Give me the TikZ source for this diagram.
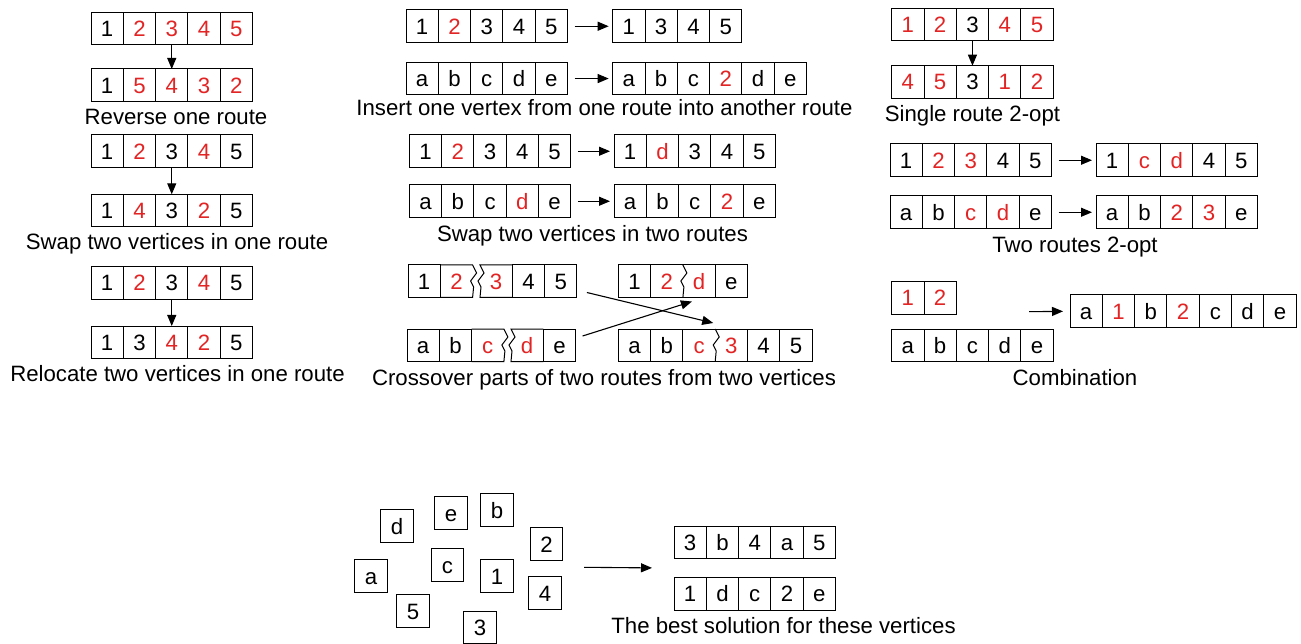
\documentclass[tikz,border=0pt]{standalone}
\usepackage{fontspec}
\setmainfont{Liberation Sans}
\usetikzlibrary{arrows.meta, calc, positioning}

\definecolor{hlred}{RGB}{226,36,36}
\newcommand{\rd}[1]{\textcolor{hlred}{#1}}
% one route = a row of cells, placed from its top-left corner
\newcommand{\route}[4][cell]{%
  \foreach \v [count=\k] in {#4}
    \node[#1] (#2-\k) at ($(#3)+(\k*32.3-16.15,16.25)$) {\v};
}
% torn edge of a cut route, drawn downwards
\newcommand{\tear}{-- ++(4,8) -- ++(-6,8) -- ++(3,6) -- ++(-1,10.5)}

\begin{document}
\begin{tikzpicture}[
  x=1pt, y=-1pt,
  font=\fontsize{22.2}{26}\selectfont,
  cell/.style={draw, line width=1pt, minimum width=32.3pt, minimum height=32.5pt,
    inner sep=0pt, outer sep=0pt, text height=16pt, text depth=0pt},
  cellnb/.style={cell, draw=none},
  outline/.style={line width=1pt},
  caption/.style={inner sep=0pt, text height=16pt, text depth=0pt},
  arrow/.style={-{Triangle[length=11pt,width=9pt]}, line width=1.1pt},
  hop/.style={arrow, shorten <=7pt, shorten >=4pt}
]
\useasboundingbox (0,0) rectangle (1301,644);

% Left column: moves inside one route
\route{rev1}{91,12.3}{1,\rd{2},\rd{3},\rd{4},\rd{5}}
\route{rev2}{91,69}{1,\rd{5},\rd{4},\rd{3},\rd{2}}
\draw[arrow] (rev1-3.south) -- (rev2-3.north);
\node[caption] (revcap) at (176,117) {Reverse one route};

\route{sw1}{91,135}{1,\rd{2},3,\rd{4},5}
\route{sw2}{91,194.3}{1,\rd{4},3,\rd{2},5}
\draw[arrow] (sw1-3.south) -- (sw2-3.north);
\node[caption] (swcap) at (177,242) {Swap two vertices in one route};

\route{rl1}{91,266.7}{1,\rd{2},3,\rd{4},5}
\route{rl2}{91,326}{1,3,\rd{4},\rd{2},5}
\draw[arrow] (rl1-3.south) -- (rl2-3.north);
\node[caption] (rlcap) at (177.5,373) {Relocate two vertices in one route};

% Middle column: moves between two routes
\route{in1}{406,10}{1,\rd{2},3,4,5}
\route{in1r}{612.7,10}{1,3,4,5}
\route{in2}{406,62.3}{a,b,c,d,e}
\route{in2r}{612.7,62.3}{a,b,c,\rd{2},d,e}
\draw[hop] (in1-5.east) -- (in1r-1.west);
\draw[hop] (in2-5.east) -- (in2r-1.west);
\node[caption] (incap) at (604.5,108) {Insert one vertex from one route into another route};

\route{st1}{409.3,135}{1,\rd{2},3,4,5}
\route{st1r}{614,135}{1,\rd{d},3,4,5}
\route{st2}{409.3,185}{a,b,c,\rd{d},e}
\route{st2r}{614,185}{a,b,c,\rd{2},e}
\draw[hop] (st1-5.east) -- (st1r-1.west);
\draw[hop] (st2-5.east) -- (st2r-1.west);
\node[caption] (stcap) at (592.5,234) {Swap two vertices in two routes};

% crossover: cut routes
\route[cellnb]{xa}{408,265}{1,\rd{2}}
\route[cellnb]{xb}{480,265}{\rd{3},4,5}
\route[cellnb]{xc}{407,329}{a,b,\rd{c}}
\route[cellnb]{xd}{511,329}{\rd{d},e}
\route[cellnb]{xe}{618.3,265}{1,\rd{2},\rd{d},e}
\route[cellnb]{xf}{618.3,329}{a,b,\rd{c},\rd{3},4,5}
\foreach \n in {xa-1, xb-2, xb-3, xc-1, xc-2, xd-2, xe-1, xe-4, xf-1, xf-2, xf-5, xf-6}
  \draw[outline] (\n.north west) rectangle (\n.south east);
\draw[outline] (xa-2.north west) -- (xa-2.north east) \tear -- (xa-2.south west);
\draw[outline] (xb-1.north east) -- (xb-1.north west) \tear -- (xb-1.south east);
\draw[outline] (xc-3.north west) -- (xc-3.north east) \tear -- (xc-3.south west);
\draw[outline] (xd-1.north east) -- (xd-1.north west) \tear -- (xd-1.south east);
\draw[outline] (xe-2.north west) rectangle (xe-3.south east);
\draw[outline] (xe-2.north east) \tear;
\draw[outline] (xf-3.north west) rectangle (xf-4.south east);
\draw[outline] (xf-3.north east) \tear;
\draw[arrow] ([xshift=10pt,yshift=5pt]xb-3.south east) -- ([xshift=-2pt,yshift=6pt]xf-3.north east);
\draw[arrow] ([xshift=7pt,yshift=-7pt]xd-2.north east) -- ([xshift=9pt,yshift=-4pt]xe-2.south east);
\node[caption] (xcap) at (604,377) {Crossover parts of two routes from two vertices};

% Right column
\route{so1}{891.7,8.3}{\rd{1},\rd{2},3,\rd{4},\rd{5}}
\route{so2}{891.7,65.7}{\rd{4},\rd{5},3,\rd{1},\rd{2}}
\draw[arrow] (so1-3.south) -- (so2-3.north);
\node[caption] (socap) at (972.5,114) {Single route 2-opt};

\route{tr1}{890,144}{1,\rd{2},\rd{3},4,5}
\route{tr1r}{1096,144}{1,\rd{c},\rd{d},4,5}
\route{tr2}{890,196}{a,b,\rd{c},\rd{d},e}
\route{tr2r}{1096,196}{a,b,\rd{2},\rd{3},e}
\draw[hop] (tr1-5.east) -- (tr1r-1.west);
\draw[hop] (tr2-5.east) -- (tr2r-1.west);
\node[caption] (trcap) at (1075,245) {Two routes 2-opt};

\route{cb1}{891.7,281.7}{\rd{1},\rd{2}}
\route{cb2}{891.7,329.3}{a,b,c,d,e}
\route{cbr}{1070,295}{a,\rd{1},b,\rd{2},c,d,e}
\coordinate (cbin) at (1029,311.7);
\draw[arrow, shorten >=7pt] (cbin) -- (cbr-1.west);
\node[caption] (cbcap) at (1075,377) {Combination};

% Bottom: scattered vertices and the best solution
\node[cell] (vd) at (397,526) {d};
\node[cell] (ve) at (451,513) {e};
\node[cell] (vb) at (497,510) {b};
\node[cell] (v2) at (546.5,544) {2};
\node[cell] (vc) at (447.5,565) {c};
\node[cell] (va) at (371,576) {a};
\node[cell] (v1) at (497,576) {1};
\node[cell] (v4) at (545,593) {4};
\node[cell] (v5) at (413,611) {5};
\node[cell] (v3) at (480,627.5) {3};

\route{bs1}{674,526}{3,b,4,a,5}
\route{bs2}{674,577.7}{1,d,c,2,e}
\coordinate (pool) at (584,567.3);
\draw[arrow, shorten >=22pt] (pool) -- ($(bs1-1.south west)!0.5!(bs2-1.north west)$);
\node[caption] (bscap) at (783.5,625) {The best solution for these vertices};

\end{tikzpicture}
\end{document}
